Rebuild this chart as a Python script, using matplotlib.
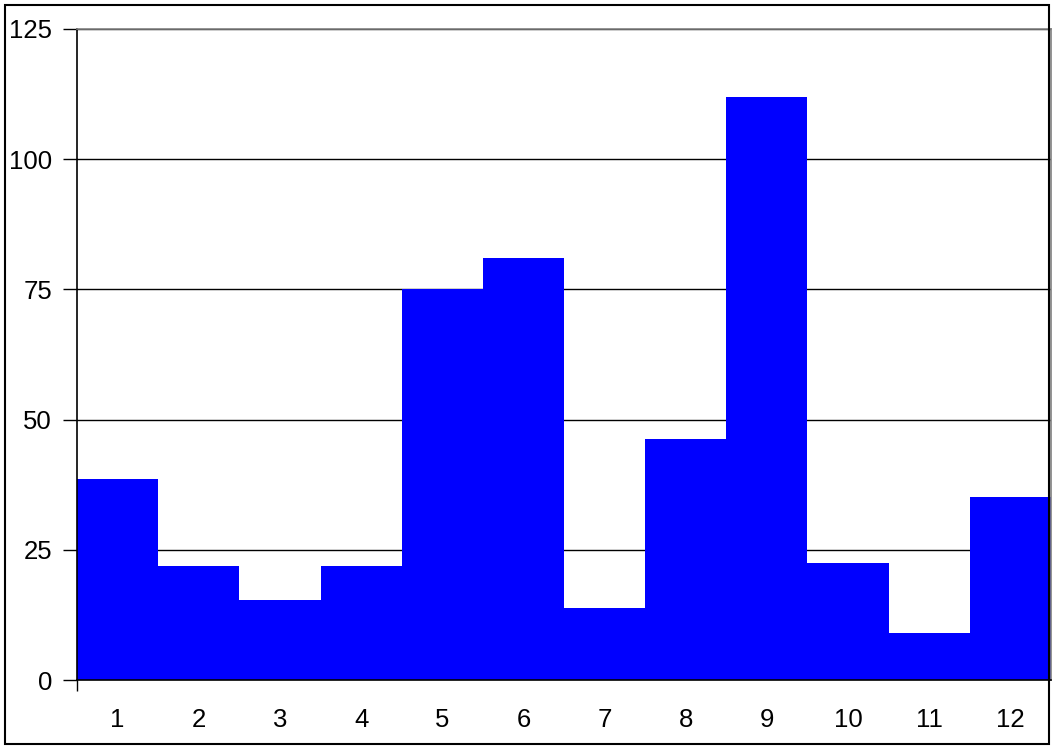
import matplotlib
matplotlib.use('Agg')
import matplotlib.pyplot as plt
from matplotlib.patches import Rectangle

# data
months = [1, 2, 3, 4, 5, 6, 7, 8, 9, 10, 11, 12]
values = [38.5, 21.9, 15.4, 21.9, 75.0, 81.0, 13.9, 46.3, 111.9, 22.5, 9.0, 35.2]
yticks = [0, 25, 50, 75, 100, 125]

plt.rcParams['font.family'] = ['Liberation Sans', 'DejaVu Sans']

fig = plt.figure(figsize=(10.55, 7.49), dpi=100)
ax = fig.add_axes([77/1055, 1-680/749, (1051-77)/1055, (680-29)/749])

ax.bar(months, values, width=1.0, color='#0000FF', zorder=2)

ax.set_xlim(0.5, 12.5)
ax.set_ylim(0, 125)
ax.set_yticks(yticks)
ax.set_xticks(months)
ax.set_xticklabels([str(m) for m in months])
ax.grid(axis='y', color='black', linewidth=1.0, zorder=1)
ax.set_axisbelow(True)

ax.tick_params(axis='y', direction='out', length=10, width=1, pad=8, labelsize=18.5)
ax.tick_params(axis='x', length=0, pad=20, labelsize=18.5)
# small tick below the origin, as in the reference
ax.set_xticks([0.5], minor=True)
ax.tick_params(axis='x', which='minor', direction='out', length=8, width=1)

for s in ['left', 'bottom']:
    ax.spines[s].set_color('black')
    ax.spines[s].set_linewidth(1.2)
for s in ['top', 'right']:
    ax.spines[s].set_color('#808080')
    ax.spines[s].set_linewidth(1.2)

# outer border around the whole chart
fig.patches.append(Rectangle((5/1055, 5/749), 1044/1055, 739/749,
                             transform=fig.transFigure, fill=False,
                             edgecolor='black', linewidth=1.5))

fig.savefig('out.png', dpi=100)
